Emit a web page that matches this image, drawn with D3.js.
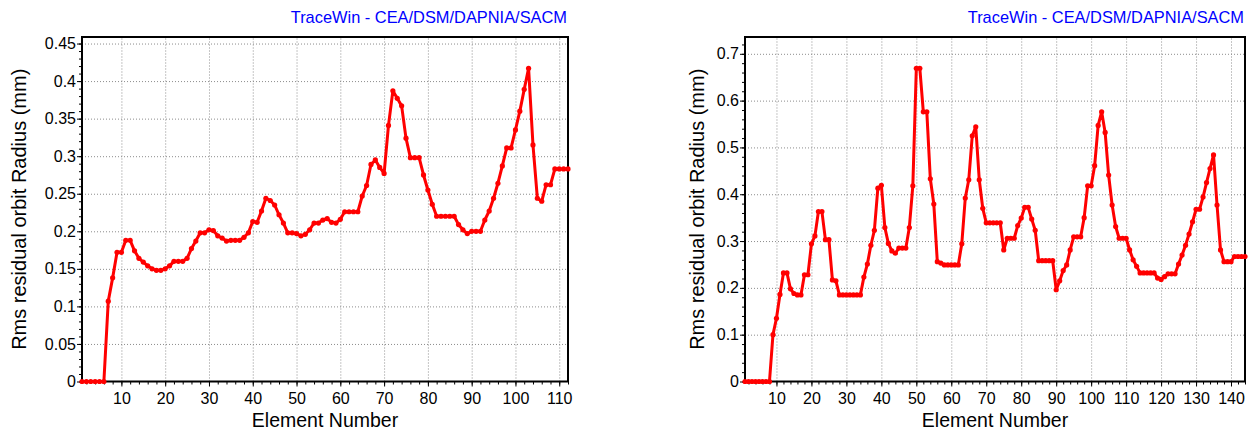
<!DOCTYPE html>
<html>
<head>
<meta charset="utf-8">
<script src="https://cdn.jsdelivr.net/npm/d3@7"></script>
<style>
   body { margin: 0; background: #ffffff; }
   svg { display: block; font-family: 'Liberation Sans', Arial, sans-serif; }
</style>
</head>
<body>
<svg id="chart" width="1258" height="432"></svg>
<script>

// LEFT CHART -- RMS RESIDUAL ORBIT PER ELEMENT
var left_values = [
   0, 0, 0, 0, 0, 0, 0.107, 0.138, 0.172, 0.172,
   0.188, 0.188, 0.174, 0.164, 0.159, 0.154, 0.150, 0.148, 0.148, 0.150,
   0.154, 0.160, 0.160, 0.160, 0.164, 0.177, 0.187, 0.198, 0.198, 0.202,
   0.201, 0.194, 0.191, 0.187, 0.188, 0.188, 0.188, 0.192, 0.198, 0.213,
   0.212, 0.227, 0.244, 0.241, 0.235, 0.222, 0.211, 0.198, 0.198, 0.197,
   0.194, 0.196, 0.202, 0.211, 0.211, 0.215, 0.217, 0.212, 0.211, 0.216,
   0.226, 0.226, 0.226, 0.226, 0.247, 0.261, 0.289, 0.295, 0.285, 0.277,
   0.341, 0.387, 0.377, 0.367, 0.324, 0.298, 0.298, 0.298, 0.275, 0.255,
   0.236, 0.220, 0.220, 0.220, 0.220, 0.220, 0.209, 0.202, 0.197, 0.200,
   0.200, 0.200, 0.215, 0.227, 0.244, 0.264, 0.287, 0.311, 0.311, 0.335,
   0.360, 0.389, 0.417, 0.315, 0.244, 0.240, 0.262, 0.262, 0.283, 0.283,
   0.283, 0.283
];

// RIGHT CHART -- RMS RESIDUAL ORBIT PER ELEMENT
var right_values = [
   0, 0, 0, 0, 0, 0, 0, 0, 0.100, 0.135,
   0.186, 0.232, 0.232, 0.198, 0.188, 0.185, 0.185, 0.228, 0.228, 0.294,
   0.311, 0.363, 0.363, 0.303, 0.303, 0.217, 0.215, 0.185, 0.185, 0.185,
   0.185, 0.185, 0.185, 0.185, 0.223, 0.251, 0.291, 0.323, 0.413, 0.419,
   0.329, 0.295, 0.279, 0.274, 0.285, 0.285, 0.285, 0.329, 0.418, 0.669,
   0.669, 0.576, 0.576, 0.433, 0.379, 0.256, 0.253, 0.249, 0.249, 0.249,
   0.249, 0.249, 0.294, 0.392, 0.431, 0.525, 0.544, 0.431, 0.370, 0.339,
   0.339, 0.339, 0.339, 0.339, 0.281, 0.306, 0.306, 0.306, 0.333, 0.349,
   0.372, 0.372, 0.347, 0.323, 0.258, 0.258, 0.258, 0.258, 0.258, 0.196,
   0.215, 0.237, 0.249, 0.281, 0.309, 0.309, 0.309, 0.350, 0.418, 0.418,
   0.461, 0.547, 0.576, 0.532, 0.441, 0.377, 0.331, 0.306, 0.306, 0.306,
   0.281, 0.260, 0.246, 0.232, 0.232, 0.232, 0.232, 0.232, 0.221, 0.218,
   0.224, 0.230, 0.230, 0.230, 0.251, 0.270, 0.291, 0.315, 0.341, 0.368,
   0.368, 0.394, 0.425, 0.455, 0.484, 0.377, 0.281, 0.256, 0.256, 0.256,
   0.267, 0.267, 0.267, 0.267
];

// TICK VALUES & LABELS
var left_yticks = [0, 0.05, 0.1, 0.15, 0.2, 0.25, 0.3, 0.35, 0.4, 0.45];
var left_ylabels = ['0', '0.05', '0.1', '0.15', '0.2', '0.25', '0.3', '0.35', '0.4', '0.45'];
var left_xticks = [10, 20, 30, 40, 50, 60, 70, 80, 90, 100, 110];
var right_yticks = [0, 0.1, 0.2, 0.3, 0.4, 0.5, 0.6, 0.7];
var right_ylabels = ['0', '0.1', '0.2', '0.3', '0.4', '0.5', '0.6', '0.7'];
var right_xticks = [10, 20, 30, 40, 50, 60, 70, 80, 90, 100, 110, 120, 130, 140];

// TEXTS
var title_text = 'TraceWin - CEA/DSM/DAPNIA/SACM';
var xlabel_text = 'Element Number';
var ylabel_text = 'Rms residual orbit Radius (mm)';

// SHARED SETTINGS
var settings = {
   top: 37,
   bottom: 381.5,
   line: '#ff0000',
   grid: '#8c8c8c',
   radius: 2.6
};

// DRAW ONE TRACEWIN PANEL
function draw_panel(svg, values, conf) {

   // X-SCALING -- ONE POINT PER ELEMENT
   var xScale = d3.scaleLinear()
      .domain([1, values.length])
      .range([conf.left, conf.right])

   // Y-SCALING -- 10% HEADROOM ABOVE THE PEAK
   var yScale = d3.scaleLinear()
      .domain([0, d3.max(values) * 1.1])
      .range([settings.bottom, settings.top])

   var g = svg.append('g');
   var width = conf.right - conf.left;
   var height = settings.bottom - settings.top;

   // HORIZONTAL GRID
   g.append('g')
      .attr('transform', 'translate(' + conf.left + ',0)')
      .call(d3.axisLeft(yScale).tickValues(conf.yticks.slice(1)).tickSize(-width).tickFormat(''))
      .call(s => s.select('.domain').remove())
      .selectAll('line')
         .attr('stroke', settings.grid)
         .attr('stroke-dasharray', '1,2')

   // VERTICAL GRID
   g.append('g')
      .attr('transform', 'translate(0,' + settings.bottom + ')')
      .call(d3.axisBottom(xScale).tickValues(conf.xticks).tickSize(-height).tickFormat(''))
      .call(s => s.select('.domain').remove())
      .selectAll('line')
         .attr('stroke', settings.grid)
         .attr('stroke-dasharray', '1,2')

   // MINOR TICKS
   g.append('g')
      .attr('transform', 'translate(' + conf.left + ',0)')
      .call(d3.axisLeft(yScale).tickValues(conf.yminor).tickSize(3).tickFormat(''))
      .call(s => s.select('.domain').remove())
   g.append('g')
      .attr('transform', 'translate(0,' + settings.bottom + ')')
      .call(d3.axisBottom(xScale).tickValues(conf.xminor).tickSize(3).tickFormat(''))
      .call(s => s.select('.domain').remove())

   // MAJOR Y AXIS
   var yAxis = g.append('g')
      .attr('transform', 'translate(' + conf.left + ',0)')
      .call(d3.axisLeft(yScale).tickValues(conf.yticks).tickSize(5).tickPadding(1)
         .tickFormat((d, i) => conf.ylabels[i]))
   yAxis.select('.domain').remove();
   yAxis.selectAll('text').attr('font-size', 16).attr('fill', '#000').attr('font-family', null);

   // MAJOR X AXIS
   var xAxis = g.append('g')
      .attr('transform', 'translate(0,' + settings.bottom + ')')
      .call(d3.axisBottom(xScale).tickValues(conf.xticks).tickSize(5).tickPadding(6))
   xAxis.select('.domain').remove();
   xAxis.selectAll('text').attr('font-size', 16).attr('fill', '#000').attr('font-family', null);

   // FRAME
   g.append('rect')
      .attr('x', conf.left)
      .attr('y', settings.top)
      .attr('width', width)
      .attr('height', height)
      .attr('fill', 'none')
      .attr('stroke', '#000')
      .attr('stroke-width', 2)

   // LINE
   var pathify = d3.line()
      .x((d, i) => { return xScale(i + 1) })
      .y((d) => { return yScale(d) })

   g.append('path')
      .attr('d', pathify(values))
      .attr('fill', 'none')
      .attr('stroke', settings.line)
      .attr('stroke-width', 3)
      .attr('stroke-linejoin', 'round')

   // DOTS
   g.selectAll('circle')
      .data(values)
         .enter().append('circle')
            .attr('cx', (d, i) => { return xScale(i + 1) })
            .attr('cy', (d) => { return yScale(d) })
            .attr('r', settings.radius)
            .attr('fill', settings.line)

   // TITLE
   g.append('text')
      .attr('x', conf.right - 1)
      .attr('y', 23)
      .attr('text-anchor', 'end')
      .attr('font-size', 16.4)
      .attr('fill', '#0000ff')
      .text(title_text)

   // AXIS LABELS
   g.append('text')
      .attr('x', (conf.left + conf.right) / 2)
      .attr('y', 427)
      .attr('text-anchor', 'middle')
      .attr('font-size', 19.5)
      .attr('fill', '#000')
      .text(xlabel_text)

   g.append('text')
      .attr('transform', 'translate(' + (conf.left - conf.ylabel_gap) + ',' + ((settings.top + settings.bottom) / 2) + ') rotate(-90)')
      .attr('text-anchor', 'middle')
      .attr('font-size', 20)
      .attr('fill', '#000')
      .text(ylabel_text)
}

var svg = d3.select('#chart');

// LEFT PANEL
draw_panel(svg, left_values, {
   left: 82, right: 568, ylabel_gap: 56,
   yticks: left_yticks, ylabels: left_ylabels, xticks: left_xticks,
   yminor: d3.range(0, 0.451, 0.01), xminor: d3.range(2, 113, 2)
});

// RIGHT PANEL
draw_panel(svg, right_values, {
   left: 745, right: 1245, ylabel_gap: 41,
   yticks: right_yticks, ylabels: right_ylabels, xticks: right_xticks,
   yminor: d3.range(0, 0.721, 0.02), xminor: d3.range(2, 145, 2)
});

</script>
</body>
</html>
